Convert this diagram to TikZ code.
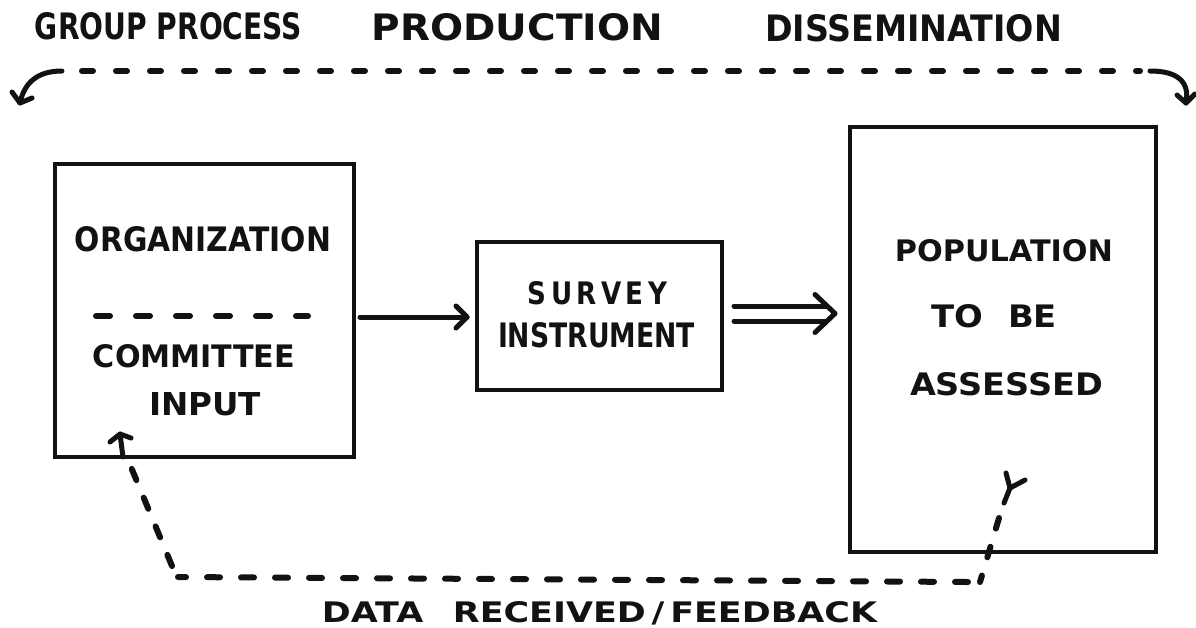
\documentclass[tikz,border=0pt]{standalone}
\usepackage{fontspec}
\setmainfont{DejaVu Sans}
\usetikzlibrary{calc}
\definecolor{ink}{RGB}{18,18,18}
\newcommand{\fitbox}[3]{\resizebox{#1pt}{#2pt}{\bfseries #3}}
\tikzset{
  lbl/.style={inner sep=0pt, outer sep=0pt, text=ink},
  boxshape/.style={draw=ink, line width=4.5pt, inner sep=0pt, outer sep=0pt, rectangle},
  conn/.style={draw=ink, line width=5pt, line cap=round, line join=round},
  dashln/.style={draw=ink, line width=6pt, line cap=round, dash pattern=on 11pt off 23pt},
}
\begin{document}
\begin{tikzpicture}[x=1pt,y=-1pt]
\fill[white] (0,0) rectangle (1196,627);
\useasboundingbox (0,0) rectangle (1196,627);

% top labels
\node[lbl] (tgp) at (168.5,26.5) {\fitbox{267}{27}{GROUP PROCESS}};
\node[lbl] (tpr) at (517.5,27.5) {\fitbox{291}{27}{PRODUCTION}};
\node[lbl] (tdi) at (913.5,28) {\fitbox{297}{27}{DISSEMINATION}};

% top bracket
\coordinate (brL) at (20,103);
\coordinate (brLs) at (62,71);
\coordinate (brRs) at (1150,71);
\coordinate (brR) at (1186,103);
\draw[dashln] (82,71) -- (1140,71);
\draw[conn] (brLs) .. controls (36,71) and (24,84) .. (brL);
\draw[conn] (12,92) -- (brL) -- (32,98);
\draw[conn] (brRs) .. controls (1178,71) and (1190,82) .. (brR);
\draw[conn] (1177,95) -- (brR) -- (1195,94);

% boxes
\node[boxshape, minimum width=299pt, minimum height=293pt] (leftbox) at (204.5,310.5) {};
\node[boxshape, minimum width=245pt, minimum height=148pt] (midbox) at (599.5,316) {};
\node[boxshape, minimum width=306pt, minimum height=425pt] (rightbox) at (1003,339.5) {};

% box texts
\node[lbl] (org) at (203,239.5) {\fitbox{256}{25}{ORGANIZATION}};
\draw[dashln, dash pattern=on 14pt off 26pt] (96,316) -- (308,316);
\node[lbl] (com) at (194,356.5) {\fitbox{202}{23}{COMMITTEE}};
\node[lbl] (inp) at (205,404.5) {\fitbox{112}{23}{INPUT}};

\node[lbl] (sur) at (597.5,293.5) {\fitbox{139}{23}{S\,U\,R\,V\,E\,Y}};
\node[lbl] (ins) at (596.5,335) {\fitbox{197}{25}{INSTRUMENT}};

\node[lbl] (pop) at (1004,251) {\fitbox{218}{22}{POPULATION}};
\node[lbl] (tobe) at (994,316.5) {\fitbox{126}{23}{TO\hspace{0.75em}BE}};
\node[lbl] (ass) at (1006.5,384.5) {\fitbox{193}{23}{ASSESSED}};

% single arrow
\coordinate (a1s) at ($(leftbox.east |- midbox.west)+(6,1)$);
\coordinate (a1e) at ($(midbox.west)+(-10,1)$);
\draw[conn] (a1s) -- (a1e);
\draw[conn] ($(a1e)+(-11,-11)$) -- (a1e) -- ($(a1e)+(-11,11)$);

% double arrow
\coordinate (das) at ($(midbox.east)+(12,-2.5)$);
\coordinate (dae) at ($(rightbox.west |- das)+(-15,0)$);
\draw[conn] ($(das)+(0,-7.5)$) -- ($(dae)+(-9,-7.5)$);
\draw[conn] ($(das)+(0,7.5)$) -- ($(dae)+(-9,7.5)$);
\draw[conn] ($(dae)+(-20,-19)$) -- (dae) -- ($(dae)+(-20,19)$);

% feedback loop
\coordinate (fbY) at (1010,488);
\coordinate (fbS) at (1004,503);
\coordinate (fbR) at (980,582);
\coordinate (fbL) at (178,577);
\coordinate (fbT) at (120,434);
\draw[conn] (1006,473) -- (fbY) -- (1025,480);
\draw[conn] (fbY) -- (fbS);
\draw[dashln, dash pattern=on 11pt off 19pt] (999,518) -- (fbR);
\draw[dashln, dash pattern=on 13pt off 21pt] (968,582) -- (fbL);
\draw[dashln, dash pattern=on 12pt off 19pt] (172,566) -- (126,455);
\draw[conn] (fbT) -- (123,457);
\draw[conn] (110,442) -- (fbT) -- (131,438);

% bottom label
\node[lbl] (fbk) at (599.5,613) {\fitbox{555}{21}{DATA\hspace{0.5em} RECEIVED\,/\,FEEDBACK}};
\end{tikzpicture}
\end{document}
